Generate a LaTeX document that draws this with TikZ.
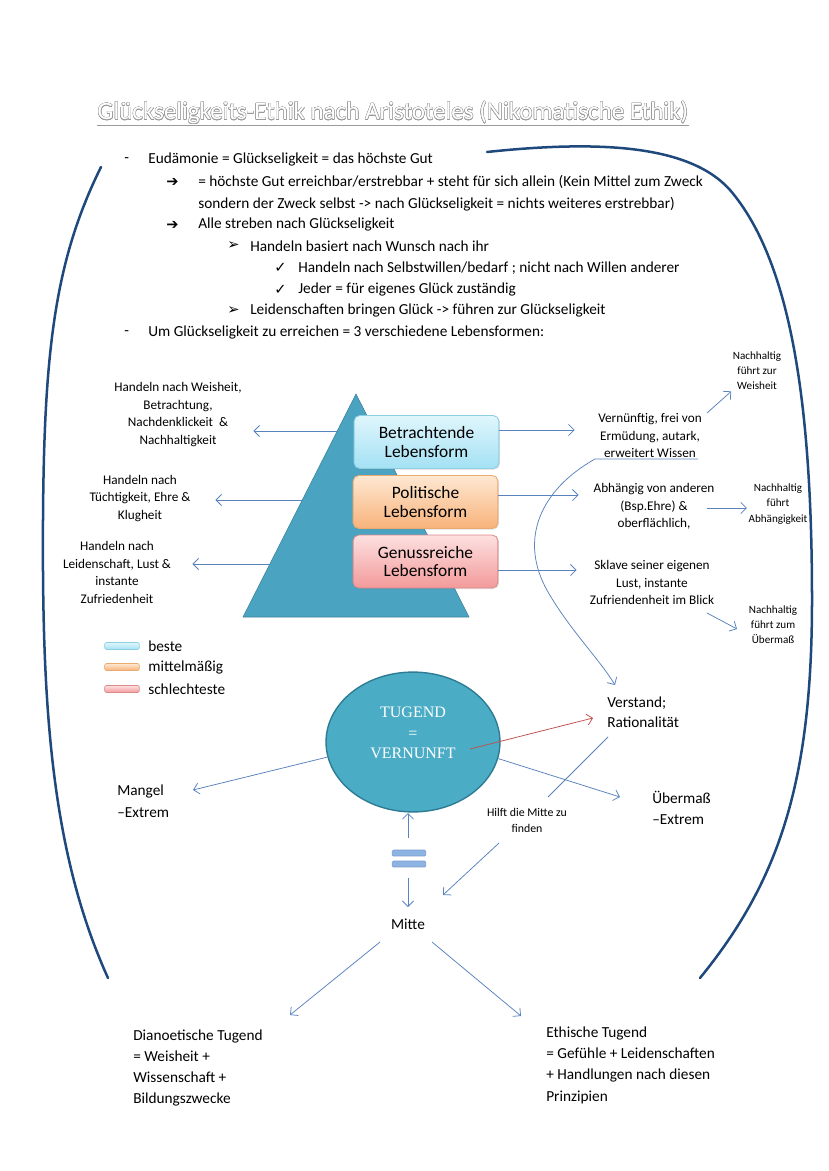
\documentclass[tikz,border=0pt]{standalone}
\usepackage{fontspec}
\setmainfont{Carlito}
\newfontfamily\zeichen{DejaVu Sans}
\newfontfamily\antiqua{Liberation Serif}
\usepackage[copies]{contour}
\contourlength{0.3pt}
\usetikzlibrary{arrows.meta,shapes.geometric,shadows}
\definecolor{bogen}{HTML}{1F497D}
\definecolor{pfeilblau}{HTML}{5A83BE}
\definecolor{rotpfeil}{HTML}{C0504D}
\definecolor{pyramide}{HTML}{4AA3C0}
\definecolor{tugendfill}{HTML}{4BACC6}
\definecolor{tugendrand}{HTML}{2E7C93}
\definecolor{blauoben}{HTML}{E0F6FC}
\definecolor{blauunten}{HTML}{A3E1F4}
\definecolor{blaurand}{HTML}{8CCFE3}
\definecolor{orangeoben}{HTML}{FEE8D2}
\definecolor{orangeunten}{HTML}{F8B27A}
\definecolor{orangerand}{HTML}{E9A96F}
\definecolor{rotoben}{HTML}{FDE0E0}
\definecolor{rotunten}{HTML}{F39A9A}
\definecolor{rotrand}{HTML}{DC8A8A}
\definecolor{gleich}{HTML}{8DB3E2}
\definecolor{titelrand}{HTML}{9A9A9A}
\begin{document}
\begin{tikzpicture}[x=0.7186pt, y=-0.7186pt,
  txt/.style={inner sep=0pt, anchor=west, font=\fontsize{11}{15.5}\selectfont, align=left},
  zch/.style={inner sep=0pt, anchor=west, font=\zeichen\fontsize{10.5}{12}\selectfont},
  klein/.style={inner sep=2pt, font=\fontsize{9.5}{12.6}\selectfont, align=flush center, text width=104pt},
  mini/.style={inner sep=1pt, font=\fontsize{8}{11}\selectfont, align=center},
  pfeil/.style={draw=pfeilblau, line width=0.55pt, -{Straight Barb[length=4pt,width=8pt]}},
  lebensform/.style={rounded corners=4pt, minimum width=104pt, minimum height=38pt, align=center,
    font=\fontsize{12.5}{13.5}\selectfont, line width=0.6pt,
    drop shadow={opacity=0.25, shadow xshift=0.8pt, shadow yshift=-0.8pt}},
  farbe/.style={rounded corners=1.5pt, minimum width=25pt, minimum height=5pt, inner sep=0pt, line width=0.5pt},
  bogen/.style={draw=bogen, line width=1.8pt, line cap=round}]
\useasboundingbox (0,0) rectangle (828,1171);

\node[inner sep=0pt, text=white, font=\fontsize{18}{20}\selectfont] (titel) at (393,113)
  {\contour{titelrand}{Glückseligkeits-Ethik nach Aristoteles (Nikomatische Ethik)}};
\draw[titelrand, line width=1.3pt] (titel.south west) -- (titel.south east);
\draw[white, line width=0.6pt] (titel.south west) -- (titel.south east);

\node[txt] (T_0_0) at (124,160) {-};
\node[txt] (T_0_1) at (148,160) {Eudämonie = Glückseligkeit = das höchste Gut};
\node[zch] (T_1_0) at (166,182) {➔};
\node[txt] (T_1_1) at (198,193) {= höchste Gut erreichbar/erstrebbar + steht für sich allein (Kein Mittel zum Zweck\\sondern der Zweck selbst -> nach Glückseligkeit = nichts weiteres erstrebbar)};
\node[zch] (T_2_0) at (166,225) {➔};
\node[txt] (T_2_1) at (198,225) {Alle streben nach Glückseligkeit};
\node[zch] (T_3_0) at (227,246) {➢};
\node[txt] (T_3_1) at (250,246) {Handeln basiert nach Wunsch nach ihr};
\node[zch] (T_4_0) at (274,268) {✓};
\node[txt] (T_4_1) at (298,268) {Handeln nach Selbstwillen/bedarf ; nicht nach Willen anderer};
\node[zch] (T_5_0) at (274,290) {✓};
\node[txt] (T_5_1) at (298,290) {Jeder = für eigenes Glück zuständig};
\node[zch] (T_6_0) at (227,311) {➢};
\node[txt] (T_6_1) at (250,311) {Leidenschaften bringen Glück -> führen zur Glückseligkeit};
\node[txt] (T_7_0) at (124,333) {-};
\node[txt] (T_7_1) at (148,333) {Um Glückseligkeit zu erreichen = 3 verschiedene Lebensformen:};

\node[klein] (H_0) at (178,414.5) {Handeln nach Weisheit,\\Betrachtung,\\Nachdenklickeit~~\&\\Nachhaltigkeit};
\node[klein] (H_1) at (140,498.5) {Handeln nach\\Tüchtigkeit, Ehre \&\\Klugheit};
\node[klein] (H_2) at (117,572.5) {Handeln nach\\Leidenschaft, Lust \&\\instante\\Zufriedenheit};
\coordinate (K_0) at (337,431);
\coordinate (K_1) at (302,500);
\coordinate (K_2) at (269,564);
\draw[pfeil] (K_0) -- (K_0 -| H_0.east);
\draw[pfeil] (K_1) -- (K_1 -| H_1.east);
\draw[pfeil] (K_2) -- (K_2 -| H_2.east);

\filldraw[fill=pyramide, draw=pyramide!80!black, line width=0.4pt] (356,394) -- (469,617) -- (243,617) -- cycle;

\node[lebensform, top color=blauoben, bottom color=blauunten, draw=blaurand] (L_0) at (426.5,442) {Betrachtende\\Lebensform};
\node[lebensform, top color=orangeoben, bottom color=orangeunten, draw=orangerand] (L_1) at (425.5,502) {Politische\\Lebensform};
\node[lebensform, top color=rotoben, bottom color=rotunten, draw=rotrand] (L_2) at (425.5,561.5) {Genussreiche\\Lebensform};

\node[klein] (R_0) at (650,435.5) {Vernünftig, frei von\\Ermüdung, autark,\\erweitert Wissen};
\node[klein] (R_1) at (654,506.5) {Abhängig von anderen\\(Bsp.Ehre) \&\\oberflächlich,};
\node[klein] (R_2) at (652,582.5) {Sklave seiner eigenen\\Lust, instante\\Zufriendenheit im Blick};
\draw[pfeil] (L_0.east |- 0,430) -- (R_0.west |- 0,430);
\draw[pfeil] (L_1.east |- 0,495) -- (R_1.west |- 0,495);
\draw[pfeil] (L_2.east |- 0,570) -- (R_2.west |- 0,570);

\node[mini] (S_0) at (757,370.5) {Nachhaltig\\führt zur\\Weisheit};
\node[mini] (S_1) at (778,504) {Nachhaltig\\führt\\Abhängigkeit};
\node[mini] (S_2) at (773,624.5) {Nachhaltig\\führt zum\\Übermaß};
\coordinate (W_0) at (707,413);
\coordinate (W_1) at (707,508);
\coordinate (W_2) at (707,613);
\coordinate (Z_2) at (737,629);
\draw[pfeil] (W_0) -- (S_0.south west);
\draw[pfeil] (W_1) -- (W_1 -| S_1.west);
\draw[pfeil] (W_2) -- (Z_2);

\node[farbe, top color=blauoben, bottom color=blauunten, draw=blaurand] (F_0) at (122,646) {};
\node[farbe, top color=orangeoben, bottom color=orangeunten, draw=orangerand] (F_1) at (122,667) {};
\node[farbe, top color=rotoben, bottom color=rotunten, draw=rotrand] (F_2) at (122,689) {};
\node[txt] (G_0) at (148,646) {beste};
\node[txt] (G_1) at (148,667) {mittelmäßig};
\node[txt] (G_2) at (148,689) {schlechteste};

\node[ellipse, fill=tugendfill, draw=tugendrand, line width=1pt, minimum width=125pt, minimum height=100.5pt, inner sep=0pt] (E) at (413,742) {};
\node[text=white, font=\antiqua\fontsize{11.5}{14.6}\selectfont, align=center] (E_t) at (413,733) {TUGEND\\=\\VERNUNFT};

\node[txt, font=\fontsize{11}{14.4}\selectfont] (V) at (607,712) {Verstand;\\Rationalität};
\node[txt, font=\fontsize{11}{15.2}\selectfont] (U) at (652,807.5) {Übermaß\\–Extrem};
\node[txt, font=\fontsize{11}{15.6}\selectfont] (M) at (117,801) {Mangel\\–Extrem};
\node[mini, font=\fontsize{8.5}{11.5}\selectfont] (Hf) at (527,820) {Hilft die Mitte zu\\finden};

\coordinate (U_0) at (698,459);
\coordinate (U_1) at (595,459);
\coordinate (V_in) at (615,685);
\draw[pfeil] (U_0) -- (U_1) .. controls (540,490) and (518,540) .. (548,592) .. controls (570,630) and (600,660) .. (V_in);
\coordinate (E_r) at (470,749);
\coordinate (V_r) at (593,718);
\draw[pfeil, draw=rotpfeil] (E_r) -- (V_r);
\coordinate (M_in) at (193,790);
\coordinate (U_in) at (620,797);
\draw[pfeil] (E.190) -- (M_in);
\draw[pfeil] (E.349) -- (U_in);
\coordinate (Hf_a) at (608,737);
\coordinate (Hf_b) at (548,797);
\draw[draw=pfeilblau, line width=0.55pt] (Hf_a) -- (Hf_b);
\coordinate (Hf_c) at (499,843);
\coordinate (Mi_r) at (443,895);
\draw[pfeil] (Hf_c) -- (Mi_r);

\node[farbe, fill=gleich, draw=pfeilblau!80, minimum width=24pt, minimum height=4.2pt, rounded corners=0.8pt] (Q_0) at (409,853) {};
\node[farbe, fill=gleich, draw=pfeilblau!80, minimum width=24pt, minimum height=4.2pt, rounded corners=0.8pt] (Q_1) at (409,864) {};
\coordinate (Q_o) at (408,838);
\coordinate (E_u) at (408,813);
\draw[pfeil] (Q_o) -- (E_u);
\coordinate (Q_u) at (408,878);
\coordinate (Mi_o) at (408,907);
\draw[pfeil] (Q_u) -- (Mi_o);
\node[txt, anchor=center] (Mi) at (408,924) {Mitte};

\node[txt, font=\fontsize{11}{15.3}\selectfont] (D) at (133,1068) {Dianoetische Tugend\\= Weisheit +\\Wissenschaft +\\Bildungszwecke};
\node[txt, font=\fontsize{11}{15.3}\selectfont] (Eth) at (546,1065) {Ethische Tugend\\= Gefühle + Leidenschaften\\+ Handlungen nach diesen\\Prinzipien};
\coordinate (Mi_l) at (380,942);
\coordinate (D_o) at (290,1015);
\coordinate (Mi_rr) at (432,942);
\coordinate (Eth_o) at (521,1016);
\draw[pfeil] (Mi_l) -- (D_o);
\draw[pfeil] (Mi_rr) -- (Eth_o);

\draw[bogen] (101,167) .. controls (55,260) and (44,350) .. (43,520) .. controls (42,700) and (50,850) .. (108,978);
\draw[bogen] (487,152) .. controls (600,140) and (690,145) .. (730,190) .. controls (790,260) and (812,400) .. (812,600) .. controls (812,780) and (780,880) .. (700,978);
\end{tikzpicture}
\end{document}
